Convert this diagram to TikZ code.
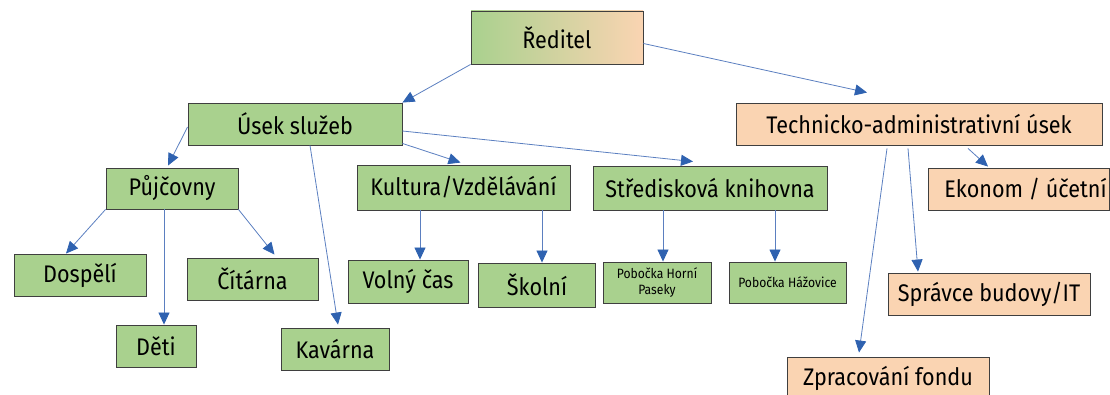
\documentclass[tikz,border=0pt]{standalone}
\usepackage{fontspec}
\setmainfont{Fira Sans}[FakeStretch=0.9]
\usetikzlibrary{arrows.meta}
\definecolor{boxgreen}{HTML}{A9D18E}
\definecolor{boxpeach}{HTML}{FAD4B2}
\definecolor{boxline}{HTML}{3F3F3F}
\definecolor{linkblue}{HTML}{5B7FC0}
\definecolor{tipblue}{HTML}{2F62B0}
\tikzset{
  box/.style={draw=boxline, line width=0.9pt, rectangle, inner sep=0pt, align=center,
    font=\fontsize{24}{27}\selectfont, text=black},
  gbox/.style={box, fill=boxgreen},
  pbox/.style={box, fill=boxpeach},
  small/.style={font=\fontsize{13.5}{16}\selectfont},
  link/.style={draw=linkblue, line width=0.8pt,
    -{Triangle[length=12pt,width=11pt,fill=tipblue,color=tipblue]}},
}
\begin{document}
\begin{tikzpicture}[x=1pt,y=-1pt]
\useasboundingbox (0,0) rectangle (1110,395);
% nodes
\node[box, left color=boxgreen, right color=boxpeach, minimum width=172, minimum height=53] (red) at (557,37.5) {Ředitel};
\node[gbox, minimum width=214, minimum height=42] (usek) at (295,124) {Úsek služeb};
\node[pbox, minimum width=366, minimum height=42] (tech) at (919,124) {Technicko-administrativní úsek};
\node[gbox, minimum width=132, minimum height=41] (pujc) at (172,188.5) {Půjčovny};
\node[gbox, minimum width=213, minimum height=45] (kult) at (463.5,187.5) {Kultura/Vzdělávání};
\node[gbox, minimum width=234, minimum height=44] (stred) at (710,188) {Středisková knihovna};
\node[pbox, minimum width=181, minimum height=42] (ekon) at (1018.5,189) {\hspace*{14pt}Ekonom / účetní};
\node[gbox, minimum width=132, minimum height=42] (dosp) at (80,275) {Dospělí};
\node[gbox, minimum width=131, minimum height=42] (cit) at (252.5,279) {Čítárna};
\node[gbox, minimum width=80, minimum height=42] (deti) at (156,346) {Děti};
\node[gbox, minimum width=108, minimum height=42] (kav) at (335,349) {Kavárna};
\node[gbox, minimum width=120, minimum height=43] (volny) at (408,281.5) {Volný čas};
\node[gbox, minimum width=117, minimum height=44] (skol) at (537,285) {Školní};
\node[gbox, small, minimum width=108, minimum height=41] (hp) at (657,282.5) {Pobočka Horní\\Paseky};
\node[gbox, small, minimum width=117, minimum height=41] (haz) at (787.5,282.5) {Pobočka Hážovice};
\node[pbox, minimum width=202, minimum height=42] (spr) at (989,294) {Správce budovy/IT};
\node[pbox, minimum width=202, minimum height=42] (zpr) at (888,378) {Zpracování fondu};
% connectors
\draw[link] (red.south west) -- (usek.north east);
\draw[link] ([yshift=-6pt]red.east) -- ([xshift=-52pt,yshift=10pt]tech.north);
\draw[link] ([yshift=-3pt]usek.west) -- ([xshift=-4pt,yshift=2pt]pujc.north);
\draw[link] ([yshift=2pt]usek.south east) -- ([xshift=-3pt,yshift=2pt]kult.north);
\draw[link] ([yshift=-7pt]usek.east) -- ([xshift=-17pt,yshift=4pt]stred.north);
\draw[link] ([xshift=15pt]usek.south) -- ([xshift=3pt,yshift=3pt]kav.north);
\draw[link] (pujc.south west) -- ([xshift=-14pt]dosp.north);
\draw[link] ([xshift=-8pt]pujc.south) -- ([xshift=8pt]deti.north);
\draw[link] (pujc.south east) -- ([xshift=22pt,yshift=3pt]cit.north);
\draw[link] ([xshift=-43.5pt]kult.south) -- ([xshift=12pt]volny.north);
\draw[link] ([xshift=78.5pt]kult.south) -- ([xshift=5pt]skol.north);
\draw[link] ([xshift=-47pt]stred.south) -- ([xshift=6pt]hp.north);
\draw[link] ([xshift=65pt]stred.south) -- ([xshift=-12.5pt]haz.north);
\draw[link] ([xshift=49pt,yshift=-3pt]tech.south) -- ([xshift=-30.5pt,yshift=1pt]ekon.north);
\draw[link] ([xshift=-11pt,yshift=-3pt]tech.south) -- ([xshift=-71pt,yshift=1pt]spr.north);
\draw[link] ([xshift=-32pt,yshift=-3pt]tech.south) -- ([xshift=-29pt,yshift=4pt]zpr.north);
\end{tikzpicture}
\end{document}
